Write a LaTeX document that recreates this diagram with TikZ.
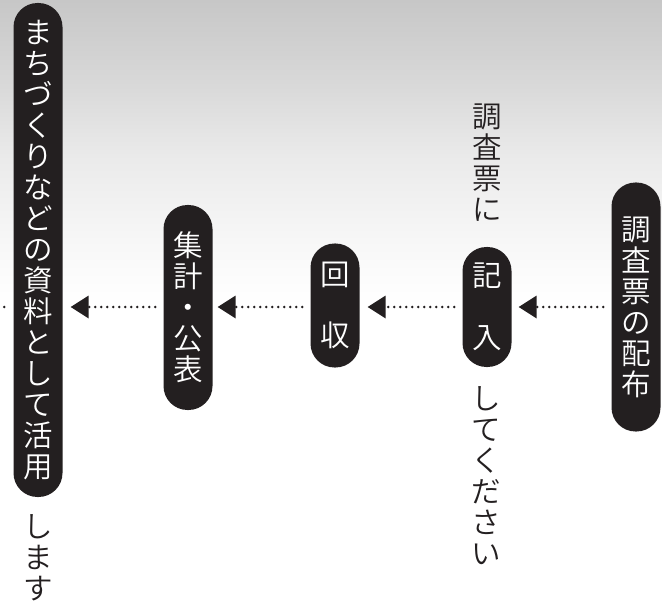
\documentclass[tikz,border=0pt]{standalone}
\usepackage{fontspec}
\newfontfamily\jp[UprightFont={* DemiLight}]{Noto Sans CJK JP}
\usetikzlibrary{arrows.meta,calc}
\definecolor{pillblack}{HTML}{231F20}
\pgfdeclareverticalshading{bgshade}{100bp}{color(0bp)=(white); color(25bp)=(white); color(50bp)=(white); color(55bp)=(black!3); color(62bp)=(black!8); color(68bp)=(black!15); color(75bp)=(black!22); color(100bp)=(black!22)}
\begin{document}
\begin{tikzpicture}[x=1pt,y=-1pt,
  pill/.style={fill=pillblack, rounded corners=24pt, minimum width=49pt, inner sep=0pt,
    text=white, align=center, font=\jp\fontsize{29.5}{31}\selectfont},
  vlabel/.style={text=pillblack, align=center, inner sep=0pt, font=\jp\fontsize{29.5}{31}\selectfont},
  dotline/.style={pillblack, line width=2.8pt, line cap=round, dash pattern=on 0pt off 6pt},
  flow/.style={dotline, -{Triangle[length=18pt,width=23pt,line width=0pt]}}]
\useasboundingbox (0,0) rectangle (662,607);
\shade[shading=bgshade] (0,0) rectangle (662,607);
\coordinate (row) at (0,307);
\coordinate (lend) at (0,307);
% pills
\node[pill, minimum height=494pt] (p1) at (38,250) {ま\\ち\\づ\\く\\り\\な\\ど\\の\\資\\料\\と\\し\\て\\活\\用};
\node[pill, minimum height=205pt] (p2) at (188,307.5) {集\\計\\・\\公\\表};
\node[pill, minimum height=124pt] (p3) at (335,305.5) {回\\[30pt]収};
\node[pill, minimum height=120pt] (p4) at (487,307) {記\\[31pt]入};
\node[pill, minimum height=249pt] (p5) at (636,307) {調\\査\\票\\の\\配\\布};
% outside labels
\node[vlabel] (t1) at (487,163) {調\\査\\票\\に};
\node[vlabel] (t2) at (486,476) {し\\て\\く\\だ\\さ\\い};
\node[vlabel] (t3) at (38,558) {し\\ま\\す};
% connectors
\draw[flow] ($(p5.west |- row)+(-8,0)$) -- ($(p4.east |- row)+(7,0)$);
\draw[flow] ($(p4.west |- row)+(-8,0)$) -- ($(p3.east |- row)+(8,0)$);
\draw[flow] ($(p3.west |- row)+(-8,0)$) -- ($(p2.east |- row)+(5,0)$);
\draw[flow] ($(p2.west |- row)+(-8,0)$) -- ($(p1.east |- row)+(8,0)$);
\draw[dotline] ($(p1.west |- row)+(-9,0)$) -- (lend);
\end{tikzpicture}
\end{document}
